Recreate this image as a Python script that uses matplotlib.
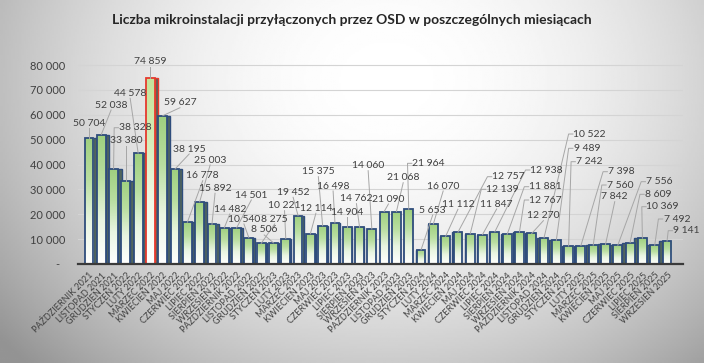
import numpy as np
import matplotlib
matplotlib.use('Agg')
import matplotlib.pyplot as plt
from matplotlib.patches import Rectangle

plt.rcParams['font.family'] = ['Lato', 'DejaVu Sans']

months = [
    'PAŹDZIERNIK 2021', 'LISTOPAD 2021', 'GRUDZIEŃ 2021',
    'STYCZEŃ 2022', 'LUTY 2022', 'MARZEC 2022', 'KWIECIEŃ 2022', 'MAJ 2022', 'CZERWIEC 2022',
    'LIPIEC 2022', 'SIERPIEŃ 2022', 'WRZESIEŃ 2022', 'PAŹDZIERNIK 2022', 'LISTOPAD 2022', 'GRUDZIEŃ 2022',
    'STYCZEŃ 2023', 'LUTY 2023', 'MARZEC 2023', 'KWIECIEŃ 2023', 'MAJ 2023', 'CZERWIEC 2023',
    'LIPIEC 2023', 'SIERPIEŃ 2023', 'WRZESIEŃ 2023', 'PAŹDZIERNIK 2023', 'LISTOPAD 2023', 'GRUDZIEŃ 2023',
    'STYCZEŃ 2024', 'LUTY 2024', 'MARZEC 2024', 'KWIECIEŃ 2024', 'MAJ 2024', 'CZERWIEC 2024',
    'LIPIEC 2024', 'SIERPIEŃ 2024', 'WRZESIEŃ 2024', 'PAŹDZIERNIK 2024', 'LISTOPAD 2024', 'GRUDZIEŃ 2024',
    'STYCZEŃ 2025', 'LUTY 2025', 'MARZEC 2025', 'KWIECIEŃ 2025', 'MAJ 2025', 'CZERWIEC 2025',
    'LIPIEC 2025', 'SIERPIEŃ 2025', 'WRZESIEŃ 2025',
]
installations = [
    50704, 52038, 38328,
    33380, 44578, 74859, 59627, 38195, 16778,
    25003, 15892, 14482, 14501, 10540, 8275,
    8506, 10221, 19452, 12114, 15375, 16498,
    14904, 14762, 14060, 21090, 21068, 21964,
    5653, 16070, 11112, 12757, 12139, 11847,
    12938, 11881, 12767, 12270, 10522, 9489,
    7242, 7398, 7560, 7842, 7556, 8609,
    10369, 7492, 9141,
]
highlight = 'MARZEC 2022'

# where Excel moved the data labels (x shift in bars, y in value units)
label_dx = [0, 0.8, 1.75, 0, -0.65, 0, 1.4, 1.15, 1.25, 0.85, 0.25, 0.45, 1.2, -0.4, 1.1,
            -0.75, -0.1, -0.4, 0.45, -0.35, -0.15, 0, -0.25, -0.3, 0.35, 0.55, 1.6,
            0.95, 0.8, 1.0, 4.1, 2.6, 1.15, 4.2, 3.1, 2.1, 0.95, 3.7, 2.5,
            1.7, 3.3, 2.2, 0.75, 3.4, 2.3, 1.65, 1.8, 1.6]
label_y = [56560, 63920, 54790, 49570, 68620, 81330, 64840, 46230, 35500, 41810, 30430, 22110,
           27740, 18090, 18090, 13670, 23440, 28820, 22390, 37110, 31360, 20780, 26250, 39520,
           26130, 34690, 40480, 21710, 31360, 24000, 35100, 30030, 24120, 37790, 31080, 25730,
           19420, 52260, 46510, 41130, 37110, 31760, 27060, 33090, 28020, 23040, 18090, 13390]

W, H = 704, 363
fig = plt.figure(figsize=(W / 100, H / 100), dpi=100)

# grey radial backdrop
bg = fig.add_axes([0, 0, 1, 1], zorder=-10)
yy, xx = np.mgrid[0:1:200j, 0:1:360j]
r = ((xx - 0.55) / 0.6) ** 2 + ((yy - 0.22) / 0.95) ** 2
shade = 1 - 0.30 * np.clip(r, 0, 1.4)
bg.imshow(shade, cmap='gray', vmin=0, vmax=1, aspect='auto', extent=[0, 1, 1, 0])
bg.set_axis_off()

ymax = 86000
ax = fig.add_axes([77.9 / W, (H - 264) / H, (683 - 77.9) / W, (264 - 50.1) / H])
ax.set_facecolor('none')

x = np.arange(len(installations))
front_w = 0.72
center = (len(x) - 1) / 2

for v in range(10000, 80001, 10000):
    ax.axhline(v, color='#d4d4d4', lw=0.8, zorder=0)

grad = np.linspace(0, 1, 64).reshape(-1, 1)
for i, (m, v) in enumerate(zip(months, installations)):
    hot = m == highlight
    edge = '#e53a2e' if hot else '#2f4d7c'
    # side face of the 3D column
    side = 0.32 * (center - i) / center
    if side >= 0:
        sx, sw = i + front_w / 2, side
    else:
        sx, sw = i - front_w / 2 + side, -side
    if sw > 0.02:
        ax.add_patch(Rectangle((sx, 0), sw, v, facecolor='#51655c', edgecolor=edge, lw=1.0, zorder=2))
    rect = Rectangle((i - front_w / 2, 0), front_w, v, facecolor='none', edgecolor=edge, lw=1.3, zorder=4)
    ax.add_patch(rect)
    cmap = matplotlib.colors.LinearSegmentedColormap.from_list(
        'g', ['#ffffff', '#e9f5e1', '#b9dea0', '#9fd07f'] if not hot else ['#ffffff', '#f0f8e6', '#d6ecb8', '#c4e39a'])
    im = ax.imshow(grad, cmap=cmap, aspect='auto', origin='lower',
                   extent=[i - front_w / 2, i + front_w / 2, 0, v], zorder=3)
    im.set_clip_path(rect)

# data labels with leader lines
for i, v in enumerate(installations):
    lx, ly = i + label_dx[i], label_y[i]
    txt = f'{v:,}'.replace(',', ' ')
    ax.text(lx, ly, txt, ha='center', va='center', fontsize=7.5, color='#404040', zorder=6, clip_on=False)
    hw = 0.2 * len(txt)
    if label_dx[i] > 1.5:
        x0 = lx - hw - 0.15
        ax.plot([x0, x0 - 0.35, i], [ly, ly, v], color='#a6a6a6', lw=0.7, zorder=5, clip_on=False)
    elif ly - 2000 - v > 1200:
        ax.plot([lx, i], [ly - 2000, v], color='#a6a6a6', lw=0.7, zorder=5, clip_on=False)

ax.set_xlim(-0.9, 48.3)
ax.set_ylim(0, ymax)
for s in ['top', 'right', 'left']:
    ax.spines[s].set_visible(False)
ax.spines['bottom'].set_color('#3a3a3a')
ax.spines['bottom'].set_linewidth(1.6)
ax.spines['bottom'].set_zorder(7)

yt = list(range(0, 80001, 10000))
ax.set_yticks(yt)
ax.set_yticklabels(['-  '] + [f'{t:,}'.replace(',', ' ') for t in yt[1:]], fontsize=8, color='#404040')
ax.tick_params(axis='y', length=0, pad=9)
ax.set_xticks(x)
ax.set_xticklabels(months, rotation=45, ha='right', rotation_mode='anchor', fontsize=6.5, color='#404040')
ax.tick_params(axis='x', length=0, pad=5)

fig.text(0.5, 1 - 20 / H, 'Liczba mikroinstalacji przyłączonych przez OSD w poszczególnych miesiącach',
         ha='center', va='center', fontsize=10, fontweight='bold', color='#262626')

fig.savefig('out.png', dpi=100)
